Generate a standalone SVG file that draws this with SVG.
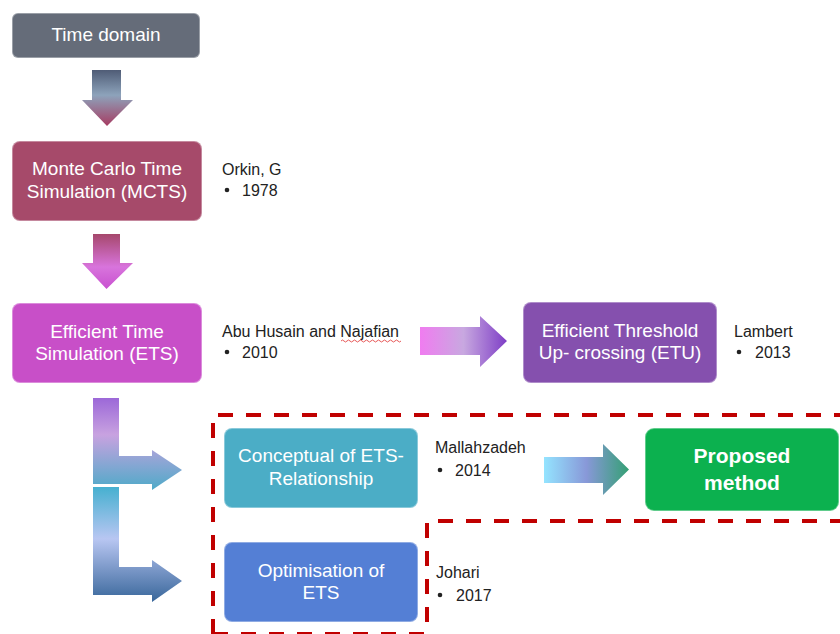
<svg xmlns="http://www.w3.org/2000/svg" width="840" height="634" viewBox="0 0 840 634">
<defs>
<linearGradient id="gA1" x1="0" y1="0" x2="0" y2="1">
<stop offset="0" stop-color="#4f5c76"/><stop offset="0.45" stop-color="#8da3bb"/><stop offset="1" stop-color="#a63c62"/>
</linearGradient>
<linearGradient id="gA2" x1="0" y1="0" x2="0" y2="1">
<stop offset="0" stop-color="#a6486c"/><stop offset="0.6" stop-color="#d874dc"/><stop offset="1" stop-color="#c850d0"/>
</linearGradient>
<linearGradient id="gA3" x1="0" y1="0" x2="1" y2="0">
<stop offset="0" stop-color="#f07cf0"/><stop offset="0.5" stop-color="#c8a8e0"/><stop offset="1" stop-color="#7e3ec6"/>
</linearGradient>
<linearGradient id="gL1" x1="0" y1="0" x2="0" y2="1">
<stop offset="0" stop-color="#9c68d8"/><stop offset="0.4" stop-color="#c8a2e0"/><stop offset="1" stop-color="#4eaac8"/>
</linearGradient>
<linearGradient id="gL2" x1="0" y1="0" x2="0" y2="1">
<stop offset="0" stop-color="#46b0d0"/><stop offset="0.45" stop-color="#b8c6f2"/><stop offset="1" stop-color="#38669a"/>
</linearGradient>
<linearGradient id="gA4" x1="0" y1="0" x2="1" y2="0">
<stop offset="0" stop-color="#94e4ff"/><stop offset="0.5" stop-color="#8898d8"/><stop offset="1" stop-color="#34a074"/>
</linearGradient>
<style>
.box{stroke:#ffffff;stroke-opacity:0.35;stroke-width:2}
.bt{font-family:"Liberation Sans",Arial,sans-serif;font-size:19px;fill:#ffffff;text-anchor:middle}
.bb{font-family:"Liberation Sans",Arial,sans-serif;font-size:21px;font-weight:bold;fill:#ffffff;text-anchor:middle}
.st{font-family:"Liberation Sans",Arial,sans-serif;font-size:16px;fill:#222222}
.dash{fill:none;stroke:#c00000;stroke-width:4;stroke-dasharray:15 13}
</style>
</defs>
<rect width="840" height="634" fill="#ffffff"/>

<g id="connectors">
<path d="M92,70 H121 V100 H133 L107,126 L82,100 H92 Z" fill="url(#gA1)"/>
<path d="M93,234 H120 V263 H133 L106.5,289 L82,263 H93 Z" fill="url(#gA2)"/>
<path d="M420,327 H480 V316 L507,341 L480,367 V355 H420 Z" fill="url(#gA3)"/>
<path d="M93,398 H119 V456 H152 V450 L182,470 L152,490 V484 H93 Z" fill="url(#gL1)"/>
<path d="M93,487 H119 V567 H152 V560 L182,581 L152,602 V595 H93 Z" fill="url(#gL2)"/>
<path d="M544,457 H603 V444 L629,469.5 L603,495 V483 H544 Z" fill="url(#gA4)"/>
</g>

<g id="regions">
<path class="dash" d="M213,634 V415 H840"/>
<path class="dash" d="M427,622 V521 H840"/>
<path class="dash" d="M213,634 H427"/>
</g>

<g id="time-domain">
<rect class="box" x="12" y="13" width="188" height="45" rx="6" fill="#656c79"/>
<text class="bt" x="106" y="41">Time domain</text>
</g>

<g id="mcts">
<rect class="box" x="12" y="141" width="190" height="80" rx="8" fill="#a64a6a"/>
<text class="bt" x="107" y="175">Monte Carlo Time</text>
<text class="bt" x="107" y="198">Simulation (MCTS)</text>
<text class="st" x="222" y="175">Orkin, G</text>
<circle cx="227" cy="190" r="2.3" fill="#222"/>
<text class="st" x="242" y="196">1978</text>
</g>

<g id="ets">
<rect class="box" x="12" y="303" width="190" height="80" rx="8" fill="#c84fc8"/>
<text class="bt" x="107" y="338">Efficient Time</text>
<text class="bt" x="107" y="360">Simulation (ETS)</text>
<text class="st" x="222" y="337">Abu Husain and Najafian</text>
<path d="M341,341 q1.5,-2 3,0 t3,0 t3,0 t3,0 t3,0 t3,0 t3,0 t3,0 t3,0 t3,0 t3,0 t3,0 t3,0 t3,0 t3,0 t3,0 t3,0 t3,0 t3,0 t3,0" fill="none" stroke="#e03030" stroke-width="0.8"/>
<circle cx="227" cy="352" r="2.3" fill="#222"/>
<text class="st" x="242" y="358">2010</text>
</g>

<g id="etu">
<rect class="box" x="523" y="302" width="194" height="81" rx="8" fill="#8550ae"/>
<text class="bt" x="620" y="337">Efficient Threshold</text>
<text class="bt" x="620" y="359">Up- crossing (ETU)</text>
<text class="st" x="734" y="337">Lambert</text>
<circle cx="739" cy="352" r="2.3" fill="#222"/>
<text class="st" x="755" y="358">2013</text>
</g>

<g id="conceptual">
<rect class="box" x="224" y="428" width="194" height="80" rx="8" fill="#4badc6"/>
<text class="bt" x="321" y="462">Conceptual of ETS-</text>
<text class="bt" x="321" y="485">Relationship</text>
<text class="st" x="435" y="453">Mallahzadeh</text>
<circle cx="440" cy="470" r="2.3" fill="#222"/>
<text class="st" x="455" y="476">2014</text>
</g>

<g id="optimisation">
<rect class="box" x="224" y="542" width="194" height="80" rx="8" fill="#547fd5"/>
<text class="bt" x="321" y="577">Optimisation of</text>
<text class="bt" x="321" y="599">ETS</text>
<text class="st" x="436" y="578">Johari</text>
<circle cx="440" cy="595" r="2.3" fill="#222"/>
<text class="st" x="456" y="601">2017</text>
</g>

<g id="proposed">
<rect class="box" x="645" y="428" width="194" height="83" rx="9" fill="#0cb14f"/>
<text class="bb" x="742" y="463">Proposed</text>
<text class="bb" x="742" y="490">method</text>
</g>
</svg>
